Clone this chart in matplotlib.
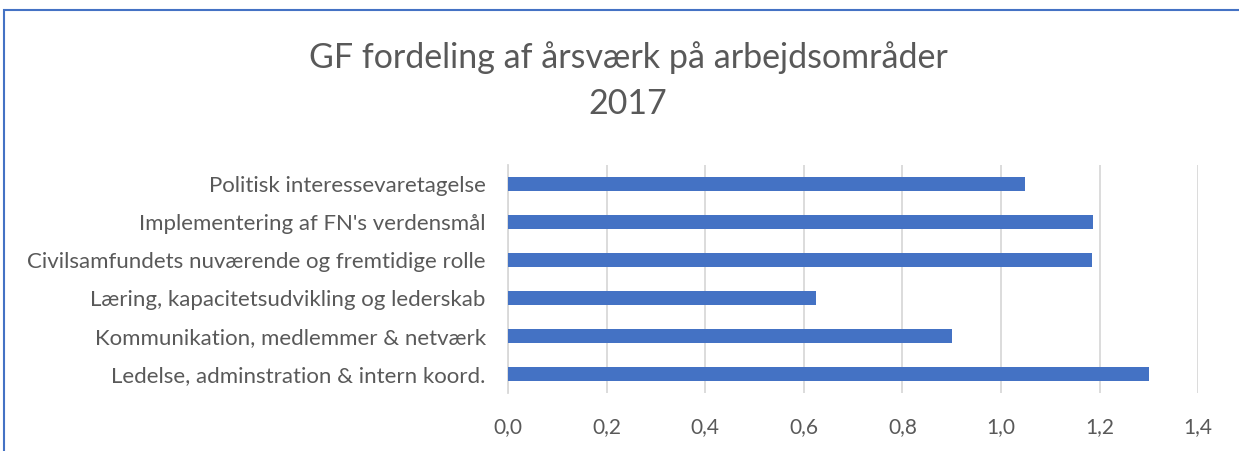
import matplotlib.pyplot as plt
from matplotlib.patches import Rectangle

# Dados
kategorier = [
    "Ledelse, adminstration & intern koord.",
    "Kommunikation, medlemmer & netværk",
    "Læring, kapacitetsudvikling og lederskab",
    "Civilsamfundets nuværende og fremtidige rolle",
    "Implementering af FN's verdensmål",
    "Politisk interessevaretagelse",
]
aarsvaerk = [1.30, 0.90, 0.625, 1.184, 1.186, 1.048]
xticks = [0.0, 0.2, 0.4, 0.6, 0.8, 1.0, 1.2, 1.4]
xtick_labels = ["0,0", "0,2", "0,4", "0,6", "0,8", "1,0", "1,2", "1,4"]

plt.rcParams['font.family'] = ['Lato', 'DejaVu Sans']
tekst = '#595959'

fig = plt.figure(figsize=(12.39, 4.51), dpi=100)
ax = fig.add_axes([0.41, 0.1286, 0.557, 0.5054])

ax.barh(range(len(kategorier)), aarsvaerk, height=0.37, color='#4472C4', zorder=3)
ax.set_ylim(-0.5, len(kategorier) - 0.5)
ax.set_xlim(0, 1.4)
ax.set_yticks(range(len(kategorier)))
ax.set_yticklabels(kategorier, fontsize=16, color=tekst)
ax.set_xticks(xticks)
ax.set_xticklabels(xtick_labels, fontsize=15, color=tekst)
ax.tick_params(length=0, axis='y', pad=16)
ax.tick_params(length=0, axis='x', pad=17)
ax.grid(axis='x', color='#D9D9D9', linewidth=1.3, zorder=0)
for s in ['top', 'right', 'bottom']:
    ax.spines[s].set_visible(False)
ax.spines['left'].set_color('#D9D9D9')
ax.spines['left'].set_linewidth(1.3)

fig.text(0.507, 0.873, "GF fordeling af årsværk på arbejdsområder", ha='center', va='center',
         fontsize=24.5, color=tekst)
fig.text(0.507, 0.77, "2017", ha='center', va='center', fontsize=24.5, color=tekst)

# ramme
fig.patches.append(Rectangle((0.003, -0.1), 1.5, 1.078, transform=fig.transFigure,
                             fill=False, edgecolor='#4472C4', linewidth=1.5))

plt.savefig('out.png', dpi=100)
